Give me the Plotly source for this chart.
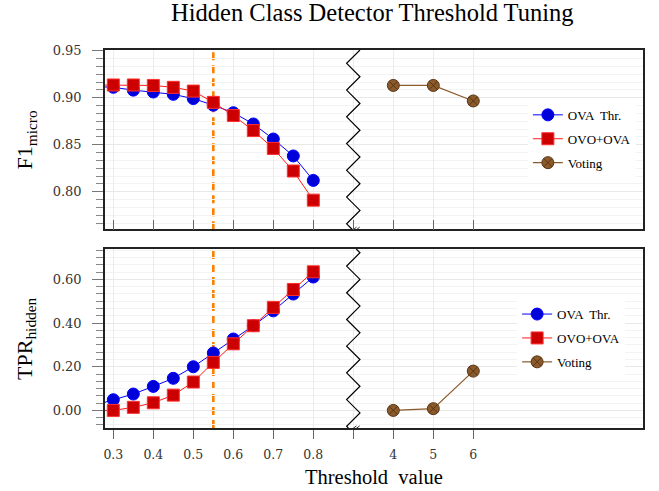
import plotly.graph_objects as go

# ---------------- data ----------------
thresholds = [0.25, 0.3, 0.35, 0.4, 0.45, 0.5, 0.55, 0.6, 0.65, 0.7, 0.75, 0.8]
f1_ova = [0.912, 0.911, 0.908, 0.906, 0.9035, 0.899, 0.892, 0.884, 0.872, 0.856, 0.838, 0.812]
f1_ovo = [0.9135, 0.9135, 0.9135, 0.913, 0.911, 0.907, 0.895, 0.881, 0.865, 0.846, 0.822, 0.791]
tpr_ova = [0.022, 0.049, 0.075, 0.110, 0.147, 0.200, 0.263, 0.327, 0.388, 0.456, 0.533, 0.611]
tpr_ovo = [0.0, 0.0, 0.014, 0.035, 0.070, 0.130, 0.220, 0.305, 0.388, 0.472, 0.554, 0.635]

voting_k = [4, 5, 6]
voting_pos = [1.0, 1.1, 1.2]          # axis positions of the voting values
f1_voting = [0.913, 0.913, 0.8965]
tpr_voting = [0.0, 0.008, 0.180]

selected_threshold = 0.55
break_pos = 0.9

tick_vals = [0.3, 0.4, 0.5, 0.6, 0.7, 0.8, 0.9, 1.0, 1.1, 1.2]
tick_text = ["0.3", "0.4", "0.5", "0.6", "0.7", "0.8", " ", "4", "5", "6"]

y1_range = [0.7600, 0.9507]
y2_range = [-0.0806, 0.7393]

# ---------------- styling ----------------
SERIF = "Liberation Serif, Times New Roman, serif"
TICKFONT = "DejaVu Serif, serif"
BLUE = "#0000ff"
RED = "#ff1a1a"
BROWN = "#8b5a2b"

fig = go.Figure()


def add_panel(xref, yref, ova, ovo, vot, legend):
    fig.add_trace(go.Scatter(
        x=thresholds, y=ova, mode="lines+markers", name="OVA  Thr.",
        xaxis=xref, yaxis=yref, legend=legend, legendgroup=legend + "a",
        line=dict(color=BLUE, width=1),
        marker=dict(symbol="circle", size=12, color="#0000d8",
                    line=dict(color="#0000ff", width=1))))
    fig.add_trace(go.Scatter(
        x=thresholds, y=ovo, mode="lines+markers", name="OVO+OVA",
        xaxis=xref, yaxis=yref, legend=legend, legendgroup=legend + "b",
        line=dict(color=RED, width=1),
        marker=dict(symbol="square", size=12, color="#cc0000",
                    line=dict(color="#ff3030", width=1))))
    fig.add_trace(go.Scatter(
        x=voting_pos, y=vot, mode="lines+markers", name="Voting",
        xaxis=xref, yaxis=yref, legend=legend, legendgroup=legend + "c",
        line=dict(color=BROWN, width=1.2),
        marker=dict(symbol="circle-x", size=12, color=BROWN,
                    line=dict(color="#5a3414", width=1))))


add_panel("x", "y", f1_ova, f1_ovo, f1_voting, "legend")
add_panel("x2", "y2", tpr_ova, tpr_ovo, tpr_voting, "legend2")

# ---------------- shapes: threshold line, axis break ----------------
H = 13.35 / 179.0      # half period of zigzag in domain units
DX = 0.0167            # half width of zigzag in x units


def zigzag(phase, rng):
    lo, hi = rng
    pts = []
    k = -2
    while True:
        y = 1 - phase - k * H
        x = break_pos + (DX if k % 2 == 0 else -DX)
        pts.append((x, y))
        if y < 0:
            break
        k += 1
    out = []
    for (x0, y0), (x1, y1) in zip(pts[:-1], pts[1:]):
        if y0 > 1 and y1 > 1:
            continue
        if y0 > 1:
            t = (y0 - 1) / (y0 - y1)
            x0, y0 = x0 + t * (x1 - x0), 1.0
        if y1 < 0:
            t = y0 / (y0 - y1)
            x1, y1 = x0 + t * (x1 - x0), 0.0
        if not out:
            out.append((x0, y0))
        out.append((x1, y1))
    conv = [(x, lo + y * (hi - lo)) for x, y in out]
    return "M " + " L ".join(f"{x:.5f},{y:.5f}" for x, y in conv)


for xr, yr, rng, phase in (("x", "y", y1_range, 0.0), ("x2", "y2", y2_range, 0.0207)):
    lo, hi = rng
    span = hi - lo
    fig.add_shape(type="line", xref=xr, yref=yr,
                  x0=selected_threshold, x1=selected_threshold, y0=lo, y1=hi,
                  line=dict(color="#ff8000", width=2.6, dash="8px,5px"),
                  layer="below")
    fig.add_shape(type="path", xref=xr, yref=yr, path=zigzag(phase, rng),
                  line=dict(color="black", width=1.2), layer="above")
    for off in (0.0, 0.008):
        fig.add_shape(type="line", xref=xr, yref=yr,
                      x0=break_pos - 0.012 + off, y0=lo - 0.022 * span,
                      x1=break_pos + 0.008 + off, y1=lo + 0.012 * span,
                      line=dict(color="#333", width=1), layer="above")

# ---------------- axes ----------------
xcommon = dict(range=[0.2792, 1.6243], tickvals=tick_vals, ticktext=tick_text,
               showgrid=True, gridcolor="#ececec", gridwidth=1,
               showline=True, linecolor="#222", linewidth=1.5, mirror=True,
               tickcolor="#666", tickwidth=1, zeroline=False,
               tickfont=dict(family=TICKFONT, size=12.5, color="#333"))

ycommon = dict(showgrid=True, gridcolor="#e8e8e8", gridwidth=1,
               showline=True, linecolor="#222", linewidth=1.5, mirror=True,
               ticks="outside", ticklen=11, tickcolor="#777", tickwidth=1,
               zeroline=False, tickformat=".2f", ticklabelstandoff=8,
               tickfont=dict(family=TICKFONT, size=13, color="#333"))

fig.update_layout(
    width=659, height=491, autosize=False,
    margin=dict(l=105, r=16, t=50, b=63, autoexpand=False),
    paper_bgcolor="white", plot_bgcolor="white",
    title=dict(text="Hidden Class Detector Threshold Tuning",
               font=dict(family=SERIF, size=24.5, color="black"),
               x=0.565, xanchor="center", y=0.975, yanchor="middle",
               xref="container", yref="container"),
    xaxis=dict(**xcommon, domain=[0, 1], anchor="y", ticks="inside", ticklen=10,
               showticklabels=False),
    xaxis2=dict(**xcommon, domain=[0, 1], anchor="y2", ticks="outside", ticklen=9,
                matches="x", ticklabelstandoff=5),
    yaxis=dict(**ycommon, domain=[0.5257, 1.0], range=y1_range,
               dtick=0.05,
               minor=dict(dtick=0.05 / 6, ticks="outside", ticklen=7,
                          tickcolor="#888", showgrid=True, gridcolor="#f3f3f3")),
    yaxis2=dict(**ycommon, domain=[0.0, 0.4735], range=y2_range,
                dtick=0.2,
                minor=dict(dtick=0.2 / 6, ticks="outside", ticklen=7,
                           tickcolor="#888", showgrid=True, gridcolor="#f3f3f3")),
    legend=dict(x=0.786, y=0.868, xanchor="left", yanchor="top",
                bgcolor="white", borderwidth=0, tracegroupgap=4,
                font=dict(family=SERIF, size=13, color="black")),
    legend2=dict(x=0.766, y=0.341, xanchor="left", yanchor="top",
                 bgcolor="white", borderwidth=0, tracegroupgap=4,
                 font=dict(family=SERIF, size=13, color="black")),
    showlegend=True,
)

fig.add_annotation(text="F1<sub>micro</sub>", xref="paper", yref="paper",
                   x=-0.147, y=0.763, xanchor="center", yanchor="middle",
                   textangle=-90, showarrow=False,
                   font=dict(family=SERIF, size=22, color="black"))
fig.add_annotation(text="TPR<sub>hidden</sub>", xref="paper", yref="paper",
                   x=-0.147, y=0.238, xanchor="center", yanchor="middle",
                   textangle=-90, showarrow=False,
                   font=dict(family=SERIF, size=22, color="black"))
fig.add_annotation(text="Threshold  value", xref="paper", yref="paper",
                   x=0.5, y=-0.1296, showarrow=False, xanchor="center",
                   yanchor="middle",
                   font=dict(family=SERIF, size=20.5, color="black"))

fig.write_html("out.html",
               config={"displayModeBar": False},
               post_script="document.body.style.margin='0';"
                           "document.body.style.padding='0';")
